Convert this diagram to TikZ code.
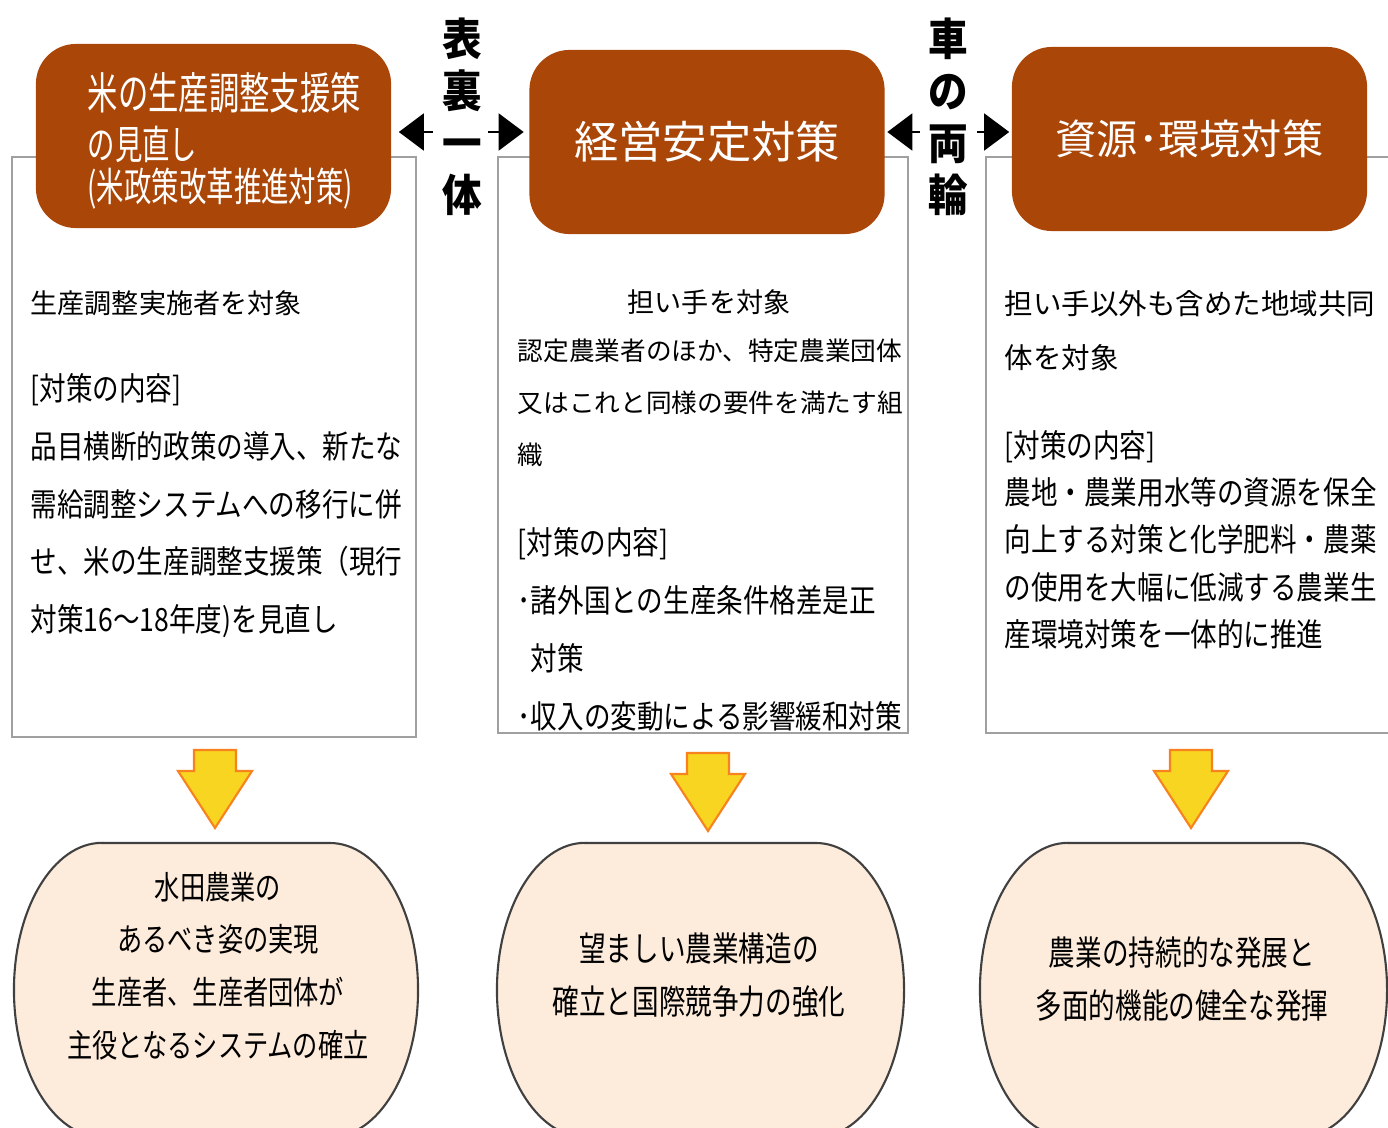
\documentclass[tikz,border=0pt]{standalone}
\usepackage{fontspec}
\setmainfont{Noto Sans CJK JP}
\newfontfamily\jpnarrow[FakeStretch=0.83]{Noto Sans CJK JP}
\newfontfamily\jphead[FakeStretch=0.69]{Noto Sans CJK JP}
\newfontfamily\jpvert[FakeStretch=0.9]{Noto Sans CJK JP}
\newfontfamily\jpgoal[FakeStretch=0.78]{Noto Sans CJK JP}
\usepackage{tikz}
\usetikzlibrary{positioning,arrows.meta}

\definecolor{headbrown}{RGB}{170,70,8}
\definecolor{framegray}{RGB}{160,160,160}
\definecolor{dropyellow}{RGB}{248,213,33}
\definecolor{droporange}{RGB}{247,130,30}
\definecolor{goalfill}{RGB}{253,236,220}
\definecolor{goalline}{RGB}{64,64,64}

\tikzset{
  header/.style={fill=headbrown, rounded corners=0.4cm, inner sep=0pt, text=white,
    minimum width=3.55cm, minimum height=1.84cm},
  frame/.style={draw=framegray, line width=0.6pt},
  txt/.style={inner sep=0pt, align=left, anchor=north west},
  link/.style={-{Triangle[length=0.25cm,width=0.37cm]}, line width=0.5pt},
  drop/.style={fill=dropyellow, draw=droporange, line width=0.6pt},
  goal/.style={fill=goalfill, draw=goalline, line width=0.6pt},
  goaltxt/.style={inner sep=0pt, align=center,
    font=\jpgoal\fontsize{9.7pt}{15pt}\selectfont},
  vlabel/.style={inner sep=0pt, align=center,
    font=\jpvert\bfseries\fontsize{12.5pt}{14.8pt}\selectfont}
}

\begin{document}
\begin{tikzpicture}[x=0.01cm,y=-0.01cm]
\useasboundingbox (0,0) rectangle (1388,1127);

% Frames
\draw[frame] (12,157) rectangle (416,737);
\draw[frame] (498,157) rectangle (908,733);
\draw[frame] (986,157) rectangle (1400,733);

% Headers
\node[header] (hdrrice) at (213.5,136) {};
\node[txt, text=white, font=\jphead\fontsize{12.5pt}{14.2pt}\selectfont] (hdrricetxt) at (87,72)
  {米の生産調整支援策\\{\fontsize{11.3pt}{12pt}\selectfont の見直し}\\[-2.2pt]{\fontsize{11.3pt}{12pt}\selectfont (米政策改革推進対策)}};
\node[header, font=\fontsize{12.6pt}{14pt}\selectfont] (hdrmgmt) at (707,142) {経営安定対策};
\node[header, font=\fontsize{11.7pt}{14pt}\selectfont] (hdrenv) at (1189.5,139) {資源･環境対策};

% Vertical labels and arrows
\node[vlabel] (unity) at (462,117) {表\\裏\\一\\体};
\node[vlabel] (wheels) at (948,117) {車\\の\\両\\輪};

\coordinate (unityL) at (433,132);
\coordinate (unityR) at (488,132);
\coordinate (wheelsL) at (920,132);
\coordinate (wheelsR) at (977,132);
\draw[link, shorten >=0.07cm] (unityL) -- (unityL -| hdrrice.east);
\draw[link, shorten >=0.05cm] (unityR) -- (unityR -| hdrmgmt.west);
\draw[link, shorten >=0.02cm] (wheelsL) -- (wheelsL -| hdrmgmt.east);
\draw[link, shorten >=0.02cm] (wheelsR) -- (wheelsR -| hdrenv.west);

% Left frame text
\node[txt, anchor=west, font=\fontsize{7.7pt}{9pt}\selectfont] (tgtrice) at (30,303) {生産調整実施者を対象};
\node[txt, font=\jpnarrow\fontsize{9.1pt}{16.4pt}\selectfont] (ctrice) at (30,373)
  {[対策の内容]\\品目横断的政策の導入、新たな\\需給調整システムへの移行に併\\せ、米の生産調整支援策（現行\\対策16～18年度)を見直し};

% Middle frame text
\node[txt, anchor=center, font=\fontsize{7.7pt}{9pt}\selectfont] (tgtmgmt) at (709,302) {担い手を対象};
\node[txt, font=\fontsize{7.3pt}{14.8pt}\selectfont] (defmgmt) at (517,338)
  {認定農業者のほか、特定農業団体\\又はこれと同様の要件を満たす組\\織};
\node[txt, font=\jpnarrow\fontsize{9.1pt}{16.5pt}\selectfont] (ctmgmt) at (517,527)
  {[対策の内容]\\･諸外国との生産条件格差是正\\\phantom{･}対策\\･収入の変動による影響緩和対策};

% Right frame text
\node[txt, font=\fontsize{8.1pt}{15.4pt}\selectfont] (tgtenv) at (1004,290)
  {担い手以外も含めた地域共同\\体を対象};
\node[txt, font=\jpnarrow\fontsize{9.1pt}{13.4pt}\selectfont] (ctenv) at (1004,430)
  {[対策の内容]\\農地・農業用水等の資源を保全\\向上する対策と化学肥料・農薬\\の使用を大幅に低減する農業生\\産環境対策を一体的に推進};

% Down arrows
\foreach \cx/\ty in {215/750, 708/753, 1191/750}
  \draw[drop] (\cx-21,\ty) -- (\cx+21,\ty) -- (\cx+21,\ty+21) -- (\cx+37,\ty+21)
    -- (\cx,\ty+78) -- (\cx-37,\ty+21) -- (\cx-21,\ty+21) -- cycle;

% Goals
\foreach \xa/\xb in {14/418, 497/904, 980/1387}
  \draw[goal] (\xa+88,843) -- (\xb-88,843)
    arc[start angle=90, end angle=-90, x radius=0.88cm, y radius=1.47cm]
    -- (\xa+88,1137)
    arc[start angle=270, end angle=90, x radius=0.88cm, y radius=1.47cm] -- cycle;

\node[goaltxt, font=\jpgoal\fontsize{9.2pt}{15pt}\selectfont] (goalrice) at (218,966)
  {水田農業の\\あるべき姿の実現\\生産者、生産者団体が\\主役となるシステムの確立};
\node[goaltxt] (goalmgmt) at (699,975) {望ましい農業構造の\\確立と国際競争力の強化};
\node[goaltxt] (goalenv) at (1182,979) {農業の持続的な発展と\\多面的機能の健全な発揮};
\end{tikzpicture}
\end{document}
